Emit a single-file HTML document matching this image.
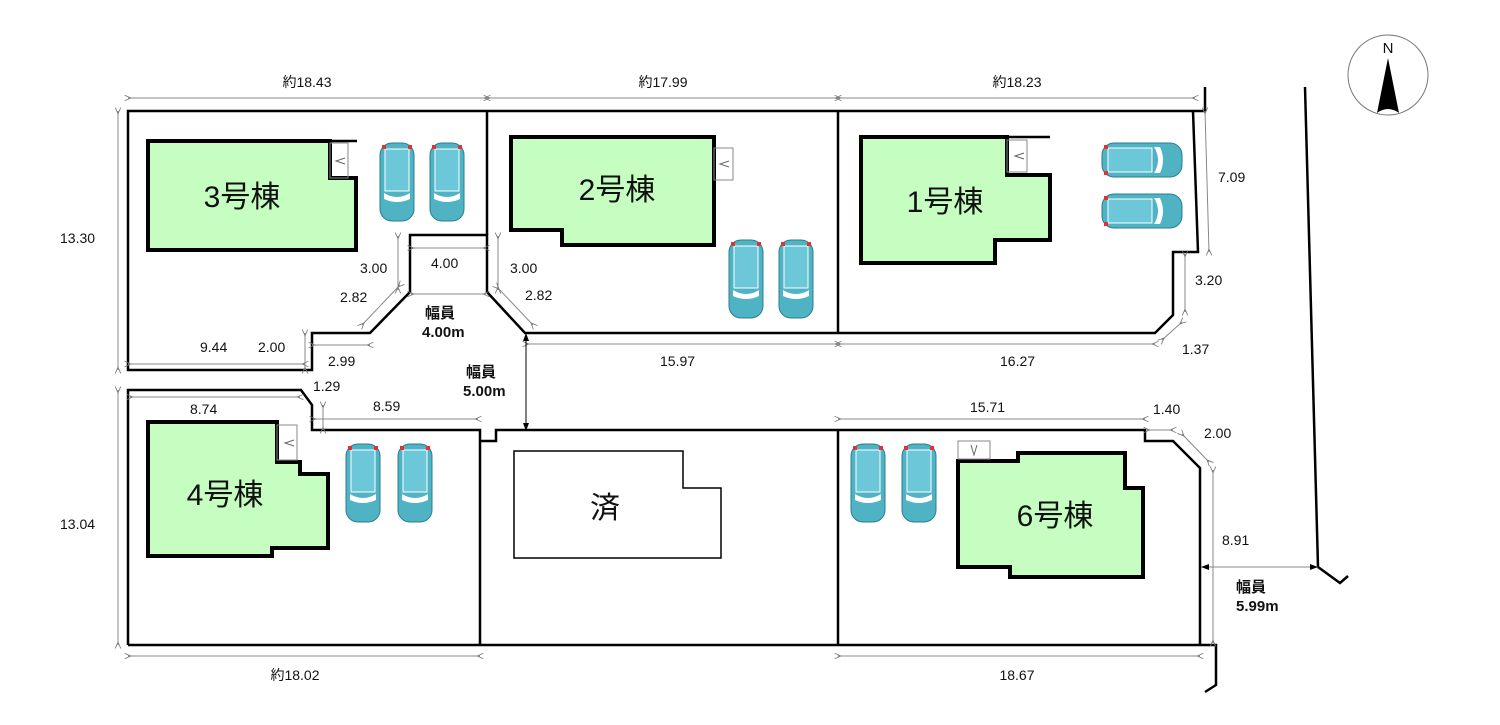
<!DOCTYPE html>
<html><head><meta charset="utf-8"><style>
body{margin:0;background:#fff}
svg{display:block}
text{font-family:"Liberation Sans","Noto Sans CJK JP",sans-serif;fill:#111}
.d{stroke:#888;stroke-width:1;fill:none;marker-start:url(#a);marker-end:url(#a)}
.b{stroke:#000;stroke-width:2.5;fill:none}
.h{fill:#c6fdc0;stroke:#000;stroke-width:4}
.t{font-size:14px}
.big{font-size:30px}
.r{font-size:15px;font-weight:bold}
</style></head><body>
<svg width="1500" height="725" viewBox="0 0 1500 725">
<defs>
<marker id="a" viewBox="0 0 10 10" refX="5" refY="5" markerWidth="7" markerHeight="7" orient="auto-start-reverse"><path d="M10,1 L1,5 L10,9" fill="none" stroke="#777" stroke-width="1.2"/></marker>
<g id="cv">
<rect x="0" y="0" width="34" height="78" rx="12" fill="#4fb3c4" stroke="#2a7f8e" stroke-width="1"/>
<rect x="5" y="6" width="24" height="42" fill="#6cc8d8" stroke="#fff" stroke-width="1"/>
<path d="M4,50 Q17,58 30,50 L30,56 Q17,62 4,56Z" fill="#fff"/>
<rect x="2" y="2" width="4" height="4" fill="#d33"/><rect x="28" y="2" width="4" height="4" fill="#d33"/>
</g>
<g id="ch">
<rect x="0" y="0" width="80" height="34" rx="12" fill="#4fb3c4" stroke="#2a7f8e" stroke-width="1"/>
<rect x="6" y="5" width="44" height="24" fill="#6cc8d8" stroke="#fff" stroke-width="1"/>
<path d="M52,4 Q60,17 52,30 L58,30 Q64,17 58,4Z" fill="#fff"/>
<rect x="2" y="2" width="4" height="4" fill="#d33"/><rect x="2" y="28" width="4" height="4" fill="#d33"/>
</g>
</defs>

<!-- compass -->
<circle cx="1388" cy="75" r="40" fill="#fff" stroke="#777" stroke-width="1"/>
<text x="1388" y="53" font-size="15" text-anchor="middle" font-family="Liberation Serif,serif">N</text>
<path d="M1388,58 L1399,113 Q1388,105 1377,113Z" fill="#000"/>

<!-- top lots boundary -->
<path class="b" d="M1205,87 L1205,111 L128,111 L128,370 L312,370 L312,333 L370,333 L410,292 L410,235 L487,235 L487,292 L525,333 L1155,333 L1173,315 L1173,252 L1198,252 L1193,111"/>
<path class="b" d="M487,111 L487,235 M838,111 L838,333"/>
<!-- bottom lots -->
<path class="b" d="M128,645 L128,390 L301,390 L312,405 L312,430 L480,430 L480,441 L496,441 L496,430 L1145,430 L1145,441 L1173,441 L1200,468 L1200,645 L128,645 M1200,645 L1216,645 L1216,685 L1205,692 M480,430 L480,645 M838,430 L838,645"/>
<!-- road right -->
<path class="b" d="M1305,87 L1318,567 L1340,583 L1348,576"/>

<!-- buildings -->
<path class="h" d="M148,141 L330,141 L330,178 L356,178 L356,250 L148,250Z"/>
<path class="b" stroke-width="4" d="M330,141 L357,141"/>
<rect x="330" y="143" width="18" height="35" fill="none" stroke="#888"/>
<path d="M345,158 L336,161 L345,164" stroke="#666" fill="none"/>
<path class="h" d="M511,137 L714,137 L714,245 L562,245 L562,230 L511,230Z"/>
<rect x="714" y="148" width="19" height="32" fill="none" stroke="#888"/>
<path d="M729,161 L720,164 L729,167" stroke="#666" fill="none"/>
<path class="h" d="M861,137 L1007,137 L1007,175 L1050,175 L1050,240 L995,240 L995,263 L861,263Z"/>
<path class="b" stroke-width="4" d="M1007,137 L1050,137"/>
<rect x="1007" y="140" width="20" height="32" fill="none" stroke="#888"/>
<path d="M1024,153 L1015,156 L1024,159" stroke="#666" fill="none"/>
<path class="h" d="M148,422 L277,422 L277,462 L300,462 L300,474 L328,474 L328,548 L272,548 L272,556 L148,556Z"/>
<rect x="277" y="425" width="20" height="35" fill="none" stroke="#888"/>
<path d="M294,440 L285,443 L294,446" stroke="#666" fill="none"/>
<path class="h" d="M958,461 L1018,461 L1018,453 L1125,453 L1125,488 L1143,488 L1143,577 L1010,577 L1010,567 L958,567Z"/>
<rect x="958" y="441" width="32" height="18" fill="none" stroke="#888"/>
<path d="M971,445 L974,455 L977,445" stroke="#666" fill="none"/>
<path d="M514,451 L683,451 L683,488 L721,488 L721,558 L514,558Z" fill="#fff" stroke="#000" stroke-width="1.5"/>

<text class="big" x="242" y="207" text-anchor="middle">3号棟</text>
<text class="big" x="617" y="200" text-anchor="middle">2号棟</text>
<text class="big" x="945" y="212" text-anchor="middle">1号棟</text>
<text class="big" x="225" y="505" text-anchor="middle">4号棟</text>
<text class="big" x="1055" y="526" text-anchor="middle">6号棟</text>
<text class="big" x="605" y="518" text-anchor="middle">済</text>

<!-- cars -->
<use href="#cv" x="380" y="143"/><use href="#cv" x="430" y="143"/>
<use href="#cv" x="729" y="240"/><use href="#cv" x="779" y="240"/>
<use href="#ch" x="1102" y="143"/><use href="#ch" x="1102" y="194"/>
<g transform="translate(0,0)"><use href="#cv" x="346" y="444"/><use href="#cv" x="398" y="444"/></g>
<use href="#cv" x="851" y="444"/><use href="#cv" x="902" y="444"/>

<!-- dimensions -->
<line class="d" x1="128" y1="98" x2="487" y2="98"/>
<line class="d" x1="487" y1="98" x2="838" y2="98"/>
<line class="d" x1="838" y1="98" x2="1195" y2="98"/>
<text class="t" x="307" y="87" text-anchor="middle">約18.43</text>
<text class="t" x="663" y="87" text-anchor="middle">約17.99</text>
<text class="t" x="1017" y="87" text-anchor="middle">約18.23</text>
<line class="d" x1="118" y1="111" x2="118" y2="370"/>
<text class="t" x="60" y="243">13.30</text>
<line class="d" x1="128" y1="364" x2="305" y2="364"/>
<text class="t" x="200" y="352">9.44</text>
<line class="d" x1="305" y1="333" x2="305" y2="370"/>
<text class="t" x="258" y="352">2.00</text>
<line class="d" x1="312" y1="345" x2="370" y2="345"/>
<text class="t" x="328" y="366">2.99</text>
<line class="d" x1="398" y1="236" x2="398" y2="290"/>
<text class="t" x="360" y="273">3.00</text>
<line class="d" x1="362" y1="325" x2="400" y2="285"/>
<text class="t" x="340" y="302">2.82</text>
<line class="d" x1="411" y1="248" x2="486" y2="248"/>
<text class="t" x="431" y="268">4.00</text>
<line class="d" x1="411" y1="294" x2="486" y2="294"/>
<text class="r" x="425" y="318">幅員</text>
<text class="r" x="422" y="337">4.00m</text>
<line class="d" x1="498" y1="236" x2="498" y2="290"/>
<text class="t" x="510" y="273">3.00</text>
<line class="d" x1="497" y1="287" x2="533" y2="325"/>
<text class="t" x="525" y="300">2.82</text>
<line class="d" x1="526" y1="344" x2="838" y2="344"/>
<line class="d" x1="838" y1="344" x2="1155" y2="344"/>
<text class="t" x="660" y="366">15.97</text>
<text class="t" x="1000" y="366">16.27</text>
<line class="d" x1="1162" y1="340" x2="1182" y2="322"/>
<text class="t" x="1182" y="354">1.37</text>
<line class="d" x1="1185" y1="254" x2="1185" y2="312"/>
<text class="t" x="1195" y="285">3.20</text>
<line class="d" x1="1205" y1="111" x2="1209" y2="252"/>
<text class="t" x="1218" y="182">7.09</text>
<line x1="526" y1="335" x2="526" y2="429" stroke="#000" stroke-width="1"/>
<path d="M523,341 L526,333 L529,341Z M523,423 L526,431 L529,423Z" fill="#000"/>
<text class="r" x="466" y="377">幅員</text>
<text class="r" x="463" y="396">5.00m</text>
<line class="d" x1="130" y1="397" x2="300" y2="397"/>
<text class="t" x="190" y="414">8.74</text>
<text class="t" x="313" y="391">1.29</text>
<line class="d" x1="323" y1="405" x2="323" y2="430"/>
<line class="d" x1="313" y1="419" x2="478" y2="419"/>
<text class="t" x="373" y="411">8.59</text>
<line class="d" x1="118" y1="390" x2="118" y2="645"/>
<text class="t" x="60" y="529">13.04</text>
<line class="d" x1="128" y1="656" x2="480" y2="656"/>
<text class="t" x="295" y="680" text-anchor="middle">約18.02</text>
<line class="d" x1="838" y1="656" x2="1200" y2="656"/>
<text class="t" x="1017" y="680" text-anchor="middle">18.67</text>
<line class="d" x1="838" y1="419" x2="1145" y2="419"/>
<text class="t" x="970" y="412">15.71</text>
<line class="d" x1="1147" y1="430" x2="1173" y2="430"/>
<text class="t" x="1153" y="414">1.40</text>
<line class="d" x1="1182" y1="434" x2="1209" y2="462"/>
<text class="t" x="1204" y="438">2.00</text>
<line class="d" x1="1213" y1="470" x2="1213" y2="643"/>
<text class="t" x="1222" y="545">8.91</text>
<line x1="1201" y1="567" x2="1318" y2="567" stroke="#888" stroke-width="1"/>
<path d="M1209,564 L1201,567 L1209,570Z M1310,564 L1318,567 L1310,570Z" fill="#000"/>
<text class="r" x="1236" y="592">幅員</text>
<text class="r" x="1236" y="611">5.99m</text>
</svg>
</body></html>
